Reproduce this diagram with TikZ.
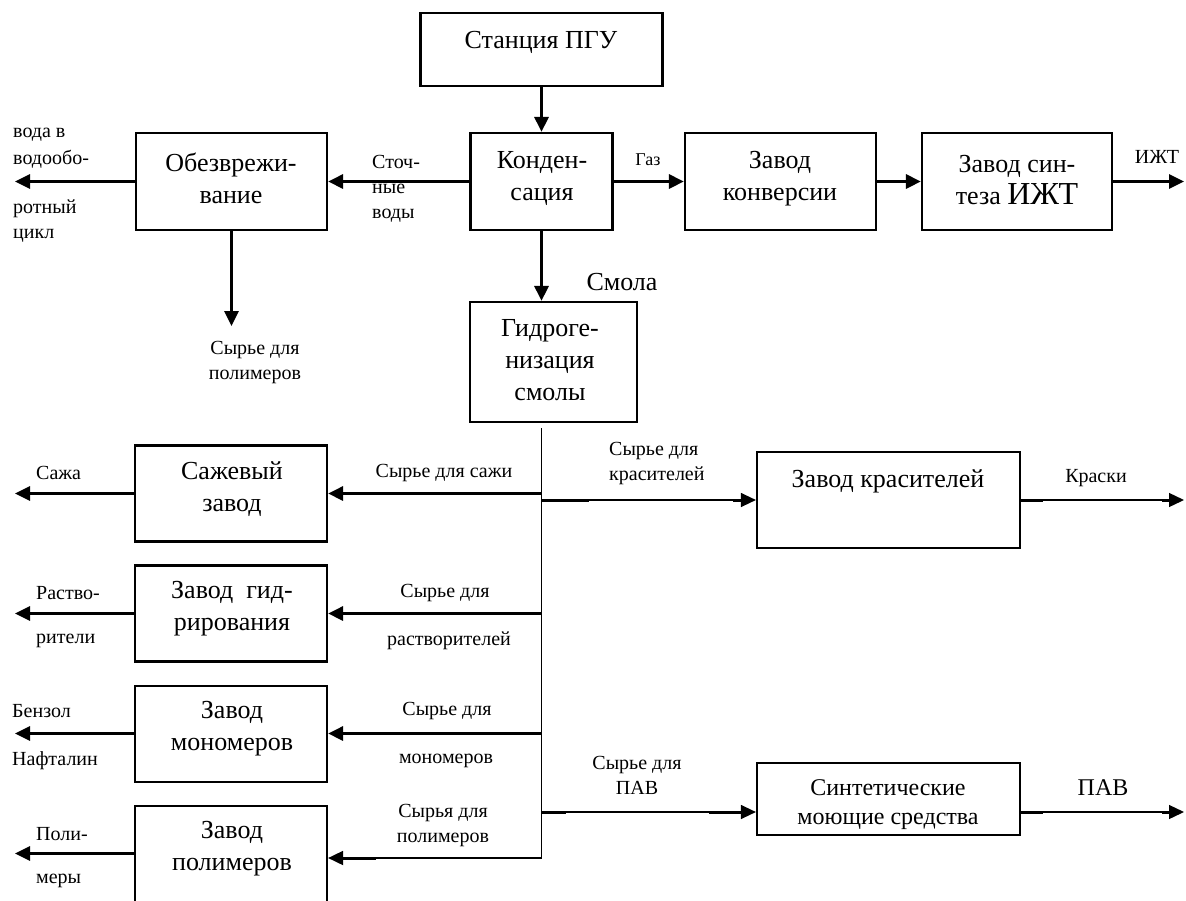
\documentclass[tikz,border=0pt]{standalone}
\usepackage{fontspec}
\setmainfont{Liberation Serif}
\usetikzlibrary{arrows.meta,calc}
\begin{document}
\begin{tikzpicture}[x=1pt,y=-1pt,
 box/.style={draw,line width=2.2pt,inner sep=0pt,anchor=center},
 bt/.style={font=\fontsize{26}{32}\selectfont,align=center,inner sep=0pt},
 lbl/.style={font=\fontsize{20}{25}\selectfont,align=center,inner sep=0pt},
 lbll/.style={font=\fontsize{20}{25}\selectfont,align=left,inner sep=0pt,anchor=west},
 arr/.style={line width=3pt,-{Triangle[length=15pt,width=14pt]}},
 trunkline/.style={line width=1.8pt,-{Triangle[length=15pt,width=14pt]}},
 thinarr/.style={line width=1.3pt,-{Triangle[length=15pt,width=14pt]}},
 stub/.style={line width=3pt},
]
\clip (0,0) rectangle (1186,900);
\fill[white] (0,0) rectangle (1186,900);
% boxes
\node[box,minimum width=242pt,minimum height=73pt] (pgu) at (541.5,49.5) {};
\node[box,minimum width=191pt,minimum height=97pt] (obez) at (231.5,181.5) {};
\node[box,minimum width=142pt,minimum height=97pt] (kond) at (541.5,181.5) {};
\node[box,minimum width=191pt,minimum height=97pt] (konv) at (780.5,181.5) {};
\node[box,minimum width=190pt,minimum height=97pt] (sint) at (1017,181.5) {};
\node[box,minimum width=167pt,minimum height=120pt] (hydro) at (553.5,362) {};
\node[box,minimum width=192pt,minimum height=96pt] (soot) at (231,493.5) {};
\node[box,minimum width=192pt,minimum height=96pt] (hydr) at (231,613.5) {};
\node[box,minimum width=192pt,minimum height=96pt] (mono) at (231,734) {};
\node[box,minimum width=192pt,minimum height=96pt] (poly) at (231,854) {};
\node[box,minimum width=263pt,minimum height=96pt] (dye) at (888.5,500) {};
\node[box,minimum width=263pt,minimum height=72pt] (smc) at (888.5,799) {};
% box texts
\node[bt] (tpgu) at (541,42) {Станция ПГУ};
\node[bt] (tobez) at (231,178) {Обезврежи-\\вание};
\node[bt] (tkond) at (542,178) {Конден-\\сация};
\node[bt] (tkonv) at (780,179) {Завод\\конверсии};
\node[bt] (tsint) at (1017,180) {Завод син-\\теза {\fontsize{32}{32}\selectfont ИЖТ}};
\node[bt] (thydro) at (550,360) {Гидроге-\\низация\\смолы};
\node[bt] (tsoot) at (232,489) {Сажевый\\завод};
\node[bt] (thydr) at (232,609) {Завод\ \ гид-\\рирования};
\node[bt] (tmono) at (232,729) {Завод\\мономеров};
\node[bt] (tpoly) at (232,849) {Завод\\полимеров};
\node[bt] (tdye) at (888,481) {Завод красителей};
\node[bt,font=\fontsize{24}{29}\selectfont] (tsmc) at (888,805) {Синтетические\\моющие средства};
% labels
\node[lbll,font=\fontsize{20}{27}\selectfont] (lw1) at (13,148) {вода в\\водообо-};
\node[lbll] (lw2) at (13,221) {ротный\\цикл};
\node[lbll] (lst) at (372,189) {Сточ-\\ные\\воды};
\node[lbl,font=\fontsize{18}{22}\selectfont] (lgaz) at (648,160) {Газ};
\node[lbl] (lizht) at (1157,157) {ИЖТ};
\node[lbl,font=\fontsize{26}{30}\selectfont] (lsmola) at (622,282) {Смола};
\node[lbl] (lpolyraw) at (255,363) {Сырье для\\полимеров};
\node[lbll] (lsaja) at (36,473) {Сажа};
\node[lbl] (lsootraw) at (444,473) {Сырье для сажи};
\node[lbll] (lsolv1) at (36,593) {Раство-};
\node[lbll] (lsolv2) at (36,641) {рители};
\node[lbl] (lsolvraw1) at (445,593) {Сырье для};
\node[lbl] (lsolvraw2) at (449,641) {растворителей};
\node[lbll] (lbenz) at (12,711) {Бензол};
\node[lbll] (lnaft) at (12,761) {Нафталин};
\node[lbl] (lmonoraw1) at (447,711) {Сырье для};
\node[lbl] (lmonoraw2) at (446,761) {мономеров};
\node[lbl] (lpolyraw2) at (443,825) {Сырья для\\полимеров};
\node[lbll] (lpoly1) at (36,834) {Поли-};
\node[lbll] (lpoly2) at (36,881) {меры};
\node[lbll] (ldyeraw) at (609,464) {Сырье для\\красителей};
\node[lbl] (lkraski) at (1096,478) {Краски};
\node[lbl] (lsurfraw) at (637,775) {Сырье для\\ПАВ};
\node[lbl,font=\fontsize{24}{28}\selectfont] (lsurf) at (1103,788) {ПАВ};
% free ends and junctions
\coordinate (oW) at (15,181.5);
\coordinate (oS) at (231.5,326);
\coordinate (oE) at (1184,181.5);
\coordinate (tT) at (541.5,428);
\coordinate (tB) at (541.5,858);
\coordinate (j1) at (541.5,493.5);
\coordinate (j2) at (541.5,500);
\coordinate (j3) at (541.5,613.5);
\coordinate (j4) at (541.5,733.5);
\coordinate (j5) at (541.5,812);
\coordinate (oSoot) at (15,493.5);
\coordinate (oHydr) at (15,613.5);
\coordinate (oMono) at (15,733.5);
\coordinate (oPoly) at (15,853.5);
\coordinate (oDye) at (1184,500);
\coordinate (oSmc) at (1184,812);
% top connectors
\draw[arr] (pgu.south) -- (kond.north);
\draw[arr] (kond.west) -- (obez.east);
\draw[arr] (obez.west) -- (oW);
\draw[arr] (obez.south) -- (oS);
\draw[arr] (kond.east) -- (konv.west);
\draw[arr] (konv.east) -- (sint.west);
\draw[arr] (sint.east) -- (oE);
\draw[arr] (kond.south) -- (kond.south |- hydro.north);
% trunk
\draw[trunkline] (tT) -- (tB) -- (tB -| poly.east);
\draw[stub] ($(tB -| poly.east)+(48,0)$) -- ($(tB -| poly.east)+(12,0)$);
% branches left
\draw[arr] (j1) -- (j1 -| soot.east);
\draw[arr] (j3) -- (j3 -| hydr.east);
\draw[arr] (j4) -- (j4 -| mono.east);
% outputs left
\draw[arr] (soot.west) -- (oSoot);
\draw[arr] (hydr.west) -- (oHydr);
\draw[arr] (oMono -| mono.west) -- (oMono);
\draw[arr] (oPoly -| poly.west) -- (oPoly);
% branches right
\draw[thinarr] (j2) -- (dye.west);
\draw[stub] (j2) -- ++(47,0);
\draw[stub] ($(dye.west)+(-23,0)$) -- ($(dye.west)+(-12,0)$);
\draw[thinarr] (dye.east) -- (oDye);
\draw[stub] (dye.east) -- ++(22,0);
\draw[stub] ($(oDye)+(-22,0)$) -- ($(oDye)+(-12,0)$);
\draw[thinarr] (j5) -- (j5 -| smc.west);
\draw[stub] (j5) -- ++(24,0);
\draw[stub] ($(j5 -| smc.west)+(-47,0)$) -- ($(j5 -| smc.west)+(-12,0)$);
\draw[thinarr] (j5 -| smc.east) -- (oSmc);
\draw[stub] (j5 -| smc.east) -- ++(22,0);
\draw[stub] ($(oSmc)+(-22,0)$) -- ($(oSmc)+(-12,0)$);
\end{tikzpicture}
\end{document}
